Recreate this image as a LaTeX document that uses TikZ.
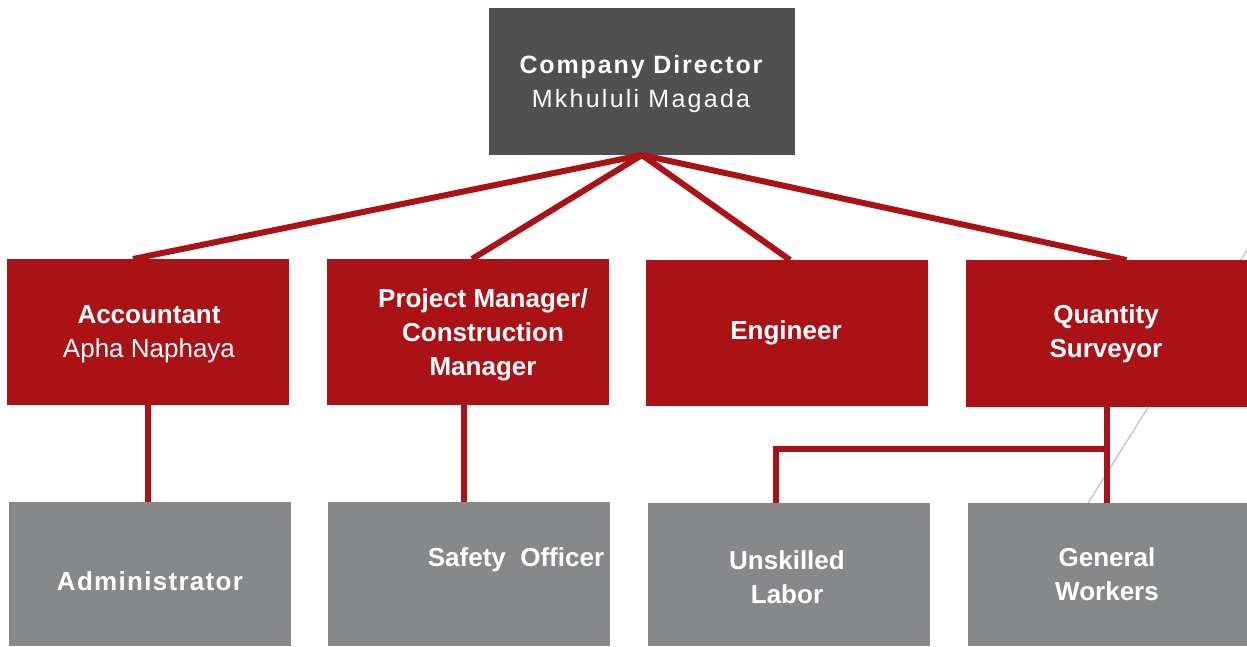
\documentclass[tikz,border=0pt]{standalone}
\usepackage{fontspec}
\setmainfont{Liberation Sans}
\usetikzlibrary{calc}
\definecolor{boxred}{HTML}{AA1215}
\definecolor{boxdark}{HTML}{505050}
\definecolor{boxgray}{HTML}{87888A}
\definecolor{thingray}{HTML}{C0C0C0}
\begin{document}
\begin{tikzpicture}[x=1pt,y=-1pt,
  box/.style={draw=none,inner sep=0pt,outer sep=0pt,anchor=north west},
  redbox/.style={box,fill=boxred,minimum width=282pt,minimum height=146pt},
  graybox/.style={box,fill=boxgray,minimum width=282pt,minimum height=144pt},
  lbl/.style={text=white,align=center,inner sep=0pt,font=\fontsize{26}{34}\selectfont},
  conn/.style={draw=boxred,line width=6pt}]
\useasboundingbox (0,0) rectangle (1247,646);
% thin background line
\coordinate (tl1) at (1247,250);
\coordinate (tl2) at (1088,503);
\draw[thingray,line width=1.2pt] (tl1) -- (tl2);
% boxes
\node[box,fill=boxdark,minimum width=306pt,minimum height=147pt] (dir) at (489,8) {};
\node[redbox] (acc) at (7,259) {};
\node[redbox] (pm) at (327,259) {};
\node[redbox] (eng) at (646,260) {};
\node[redbox,minimum width=281pt,minimum height=147pt] (qs) at (966,260) {};
\node[graybox] (adm) at (9,502) {};
\node[graybox] (saf) at (328,502) {};
\node[graybox,minimum height=143pt] (unsk) at (648,503) {};
\node[graybox,minimum width=279pt,minimum height=143pt] (gen) at (968,503) {};
% helper coordinates
\coordinate (pmout) at ($(pm.south)+(-4,0)$);
\coordinate (safin) at (pmout |- saf.north);
\coordinate (qsbend) at ($(qs.south)+(3,42)$);
\coordinate (unskin) at ($(unsk.north)+(-13,0)$);
% connectors
\draw[conn] (dir.south) -- ($(acc.north)+(-15,0)$);
\draw[conn] (dir.south) -- ($(pm.north)+(4,0)$);
\draw[conn] (dir.south) -- ($(eng.north)+(3,0)$);
\draw[conn] (dir.south) -- ($(qs.north)+(20,0)$);
\draw[conn] (acc.south) -- (acc.south |- adm.north);
\draw[conn] (pmout) -- (safin);
\draw[conn] (qs.south) -- (qs.south |- gen.north);
\draw[conn] (qsbend) -| (unskin);
% labels
\node[lbl] (tdir) at (641,84) {{\fontsize{25}{35}\selectfont\addfontfeature{LetterSpace=7.5}\bfseries Company Director}\\{\fontsize{25}{35}\selectfont\addfontfeature{LetterSpace=9}Mkhululi Magada}};
\node[lbl] (tacc) at (149,334) {\bfseries Accountant\\Apha Naphaya};
\node[lbl,font=\fontsize{26}{34}\selectfont\bfseries] (tpm) at (483,335) {Project Manager/\\Construction\\Manager};
\node[lbl,font=\fontsize{26}{34}\selectfont\bfseries] (teng) at (786,333) {Engineer};
\node[lbl,font=\fontsize{26}{34}\selectfont\bfseries] (tqs) at (1106,334) {Quantity\\Surveyor};
\node[lbl,font=\fontsize{26}{34}\selectfont\bfseries\addfontfeature{LetterSpace=5}] (tadm) at (150,581) {Administrator};
\node[lbl,font=\fontsize{26}{34}\selectfont\bfseries] (tsaf) at (516,560) {Safety\ \ Officer};
\node[lbl,font=\fontsize{26}{34}\selectfont\bfseries] (tunsk) at (787,577) {Unskilled\\Labor};
\node[lbl,font=\fontsize{26}{34}\selectfont\bfseries] (tgen) at (1107,574) {General\\Workers};
\end{tikzpicture}
\end{document}
